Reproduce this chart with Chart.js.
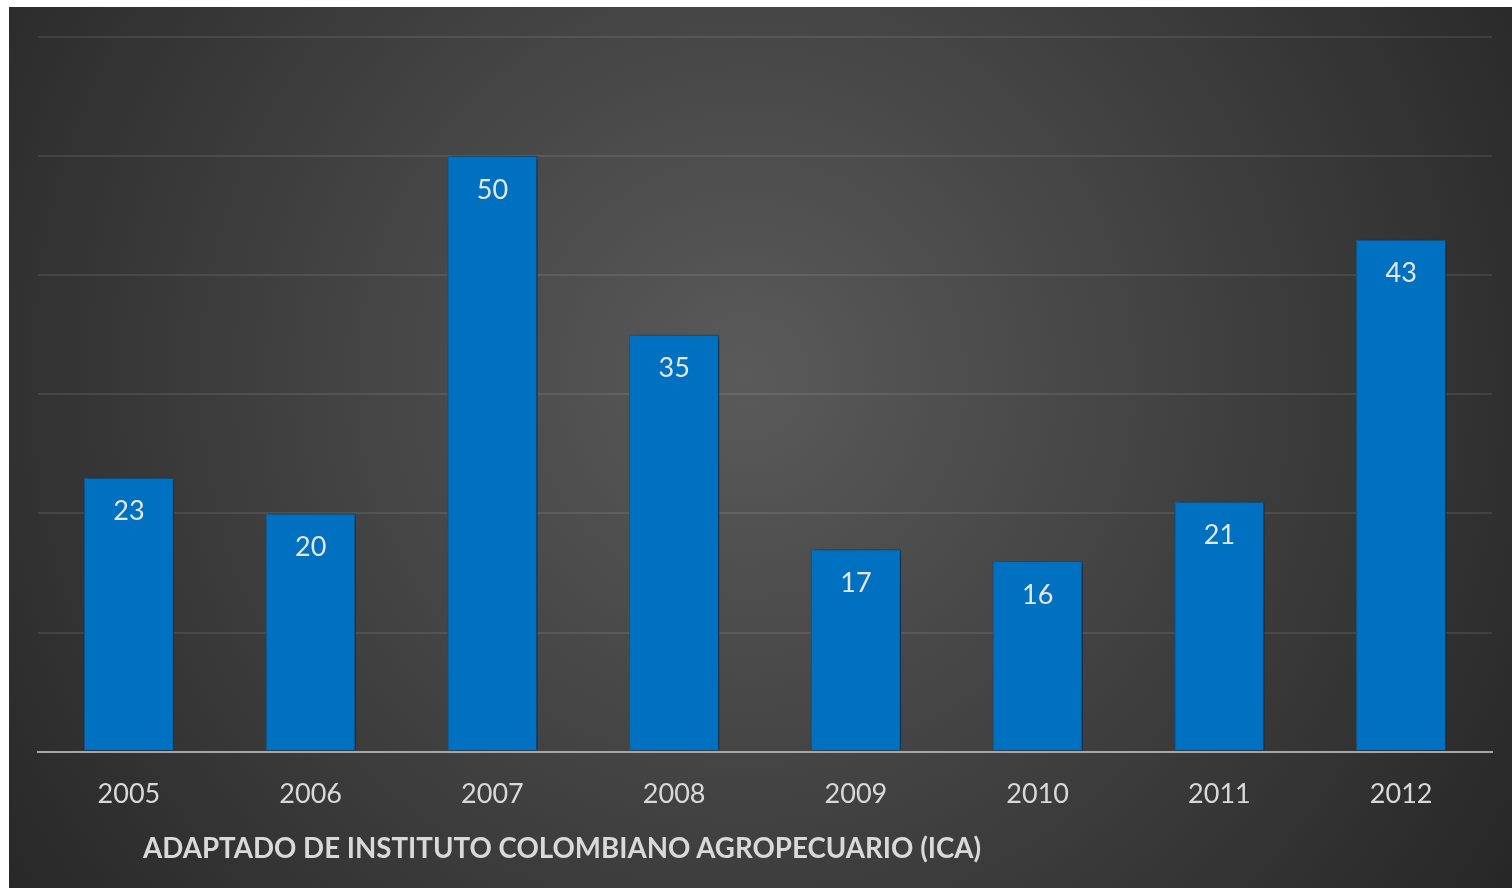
<!DOCTYPE html>
<html>
<head>
<meta charset="utf-8">
<script src="https://cdn.jsdelivr.net/npm/chart.js@4/dist/chart.umd.min.js"></script>
<style>
  html, body { margin: 0; padding: 0; background: #fff; }
  #wrap { position: absolute; left: 9px; top: 7px; width: 1503px; height: 881px; }
  #caption {
    position: absolute; left: 134px; top: 824px;
    font: bold 27.7px Lato, "Open Sans", sans-serif; color: #d9d9d9;
    white-space: nowrap;
  }
</style>
</head>
<body>
<div id="wrap">
  <canvas id="chart"></canvas>
  <div id="caption">ADAPTADO DE INSTITUTO COLOMBIANO AGROPECUARIO (ICA)</div>
</div>
<script>
const years = ['2005', '2006', '2007', '2008', '2009', '2010', '2011', '2012'];
const counts = [23, 20, 50, 35, 17, 16, 21, 43];
const yTicks = [0, 10, 20, 30, 40, 50, 60];

// dark radial backdrop behind the plot
const backdrop = {
  id: 'backdrop',
  beforeDraw(chart) {
    const { ctx, width, height } = chart;
    const g = ctx.createRadialGradient(width * 0.49, height * 0.42, 0, width * 0.49, height * 0.42, width * 0.62);
    g.addColorStop(0, '#5a5a5a');
    g.addColorStop(1, '#262626');
    ctx.save();
    ctx.fillStyle = g;
    ctx.fillRect(0, 0, width, height);
    ctx.restore();
  }
};

// soft shadow to the right of each bar
const barShadow = {
  id: 'barShadow',
  beforeDatasetDraw(chart) {
    const ctx = chart.ctx;
    ctx.save();
    ctx.shadowColor = 'rgba(0,0,0,0.65)';
    ctx.shadowBlur = 6;
    ctx.shadowOffsetX = 3;
    ctx.shadowOffsetY = 1;
  },
  afterDatasetDraw(chart) {
    chart.ctx.restore();
  }
};

// value labels just inside the top of each bar
const valueLabels = {
  id: 'valueLabels',
  afterDatasetsDraw(chart) {
    const ctx = chart.ctx;
    const meta = chart.getDatasetMeta(0);
    ctx.save();
    ctx.font = '27px Lato, "Open Sans", sans-serif';
    ctx.fillStyle = '#e6e6e6';
    ctx.textAlign = 'center';
    ctx.textBaseline = 'middle';
    meta.data.forEach((bar, i) => {
      ctx.fillText(String(counts[i]), bar.x, bar.y + 34);
    });
    ctx.restore();
  }
};

new Chart(document.getElementById('chart'), {
  type: 'bar',
  data: {
    labels: years,
    datasets: [{
      data: counts,
      backgroundColor: '#0070c0',
      borderColor: '#1a5c94',
      borderWidth: 1,
      categoryPercentage: 1,
      barPercentage: 0.496
    }]
  },
  options: {
    responsive: true,
    maintainAspectRatio: false,
    animation: false,
    layout: { padding: { left: 29, right: 20, top: 30, bottom: 52 } },
    scales: {
      x: {
        grid: { display: false, drawTicks: false },
        border: { color: '#a6a6a6', width: 2 },
        ticks: {
          color: '#d9d9d9',
          font: { family: 'Lato, "Open Sans", sans-serif', size: 27 },
          padding: 26
        }
      },
      y: {
        min: 0,
        max: 60,
        afterBuildTicks(axis) {
          axis.ticks = yTicks.map(v => ({ value: v }));
        },
        ticks: { display: false },
        border: { display: false },
        grid: { color: 'rgba(255,255,255,0.09)', lineWidth: 2, drawTicks: false }
      }
    },
    plugins: {
      legend: { display: false },
      title: { display: false },
      tooltip: { enabled: false }
    }
  },
  plugins: [backdrop, barShadow, valueLabels]
});
</script>
</body>
</html>
